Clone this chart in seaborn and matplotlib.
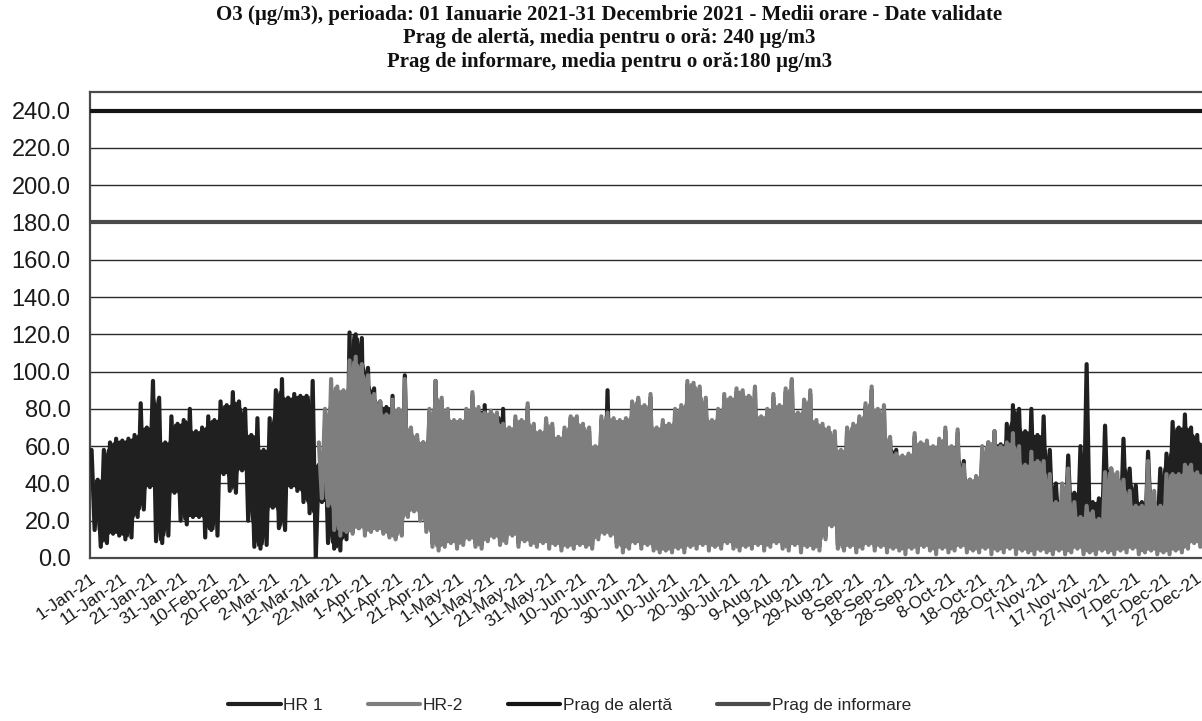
import matplotlib
matplotlib.use("Agg")
import matplotlib.pyplot as plt
import pandas as pd
import seaborn as sns

# Hourly O3 shown as daily peak / trough pairs, one pair per 2-day block (µg/m3)
BLOCK_DAYS = 2
HR1_START_DAY = 0
HR2_START_DAY = 74

hr1_high = [
    58, 42, 58, 62, 64, 63, 64, 66, 83, 70,
    95, 86, 62, 76, 72, 74, 80, 68, 70, 76,
    74, 84, 82, 89, 84, 80, 66, 75, 58, 75,
    90, 96, 86, 88, 87, 87, 95, 50, 70, 80,
    85, 88, 121, 120, 118, 102, 91, 84, 81, 87,
    78, 98, 68, 64, 62, 78, 95, 84, 78, 72,
    72, 78, 87, 79, 82, 77, 76, 80, 68, 74,
    72, 81, 70, 66, 73, 70, 63, 68, 75, 74,
    70, 68, 58, 74, 90, 73, 72, 73, 82, 85,
    80, 86, 68, 72, 70, 78, 80, 93, 92, 90,
    84, 72, 78, 86, 84, 89, 88, 86, 90, 74,
    78, 86, 80, 89, 95, 76, 83, 88, 72, 70,
    68, 66, 56, 68, 70, 74, 81, 90, 78, 80,
    63, 58, 54, 55, 65, 60, 62, 58, 62, 68,
    58, 67, 52, 42, 42, 55, 62, 68, 61, 72,
    82, 80, 68, 80, 66, 76, 58, 40, 30, 55,
    35, 60, 104, 30, 32, 71, 48, 40, 64, 48,
    39, 30, 57, 30, 48, 56, 73, 70, 77, 70,
    66, 62, 60,
]
hr1_low = [
    15, 6, 8, 13, 12, 10, 11, 22, 26, 38,
    9, 8, 12, 35, 20, 18, 22, 22, 11, 15,
    12, 45, 36, 35, 47, 20, 6, 5, 7, 27,
    16, 15, 38, 36, 30, 24, 0, 30, 8, 5,
    4, 10, 14, 16, 15, 18, 16, 14, 12, 11,
    13, 24, 26, 22, 17, 8, 6, 8, 10, 7,
    9, 12, 8, 7, 10, 12, 9, 10, 14, 8,
    10, 9, 8, 10, 7, 9, 6, 8, 7, 9,
    8, 7, 12, 14, 13, 8, 6, 7, 10, 7,
    9, 6, 5, 6, 5, 7, 5, 8, 7, 9,
    24, 8, 7, 10, 7, 6, 8, 7, 9, 6,
    8, 10, 7, 6, 9, 5, 8, 7, 6, 12,
    18, 7, 6, 8, 5, 7, 9, 6, 8, 5,
    7, 6, 5, 7, 5, 8, 6, 5, 7, 5,
    6, 8, 6, 20, 18, 15, 10, 12, 9, 14,
    20, 25, 18, 22, 16, 20, 15, 12, 10, 14,
    8, 12, 15, 10, 12, 18, 15, 12, 16, 14,
    10, 8, 15, 10, 12, 18, 20, 22, 25, 20,
    18, 20, 22,
]
hr2_high = [
    62, 80, 96,
    92, 90, 106, 108, 104, 98, 88, 84, 77, 85,
    80, 96, 70, 66, 62, 80, 95, 86, 80, 74,
    74, 80, 89, 81, 78, 79, 78, 72, 70, 76,
    74, 83, 72, 68, 75, 72, 65, 70, 76, 76,
    72, 70, 60, 76, 78, 75, 74, 75, 84, 86,
    82, 88, 70, 74, 72, 80, 82, 95, 94, 92,
    86, 74, 80, 88, 86, 91, 90, 87, 92, 76,
    80, 88, 82, 91, 96, 78, 85, 90, 74, 72,
    70, 68, 58, 70, 72, 76, 83, 92, 80, 82,
    65, 56, 55, 56, 67, 62, 63, 60, 64, 70,
    60, 69, 50, 42, 44, 60, 62, 68, 60, 62,
    67, 60, 50, 57, 52, 52, 45, 30, 40, 48,
    30, 22, 28, 25, 21, 46, 48, 46, 42, 36,
    28, 28, 52, 36, 28, 45, 45, 45, 50, 50,
    46, 45, 44,
]
hr2_low = [
    32, 28, 15,
    12, 14, 13, 16, 12, 14, 15, 13, 11, 10,
    12, 22, 25, 20, 14, 6, 4, 6, 8, 5,
    7, 10, 6, 5, 9, 11, 7, 8, 12, 6,
    9, 7, 6, 8, 5, 7, 4, 6, 5, 7,
    6, 5, 10, 13, 12, 6, 3, 5, 8, 5,
    7, 4, 3, 4, 3, 5, 3, 6, 5, 7,
    4, 6, 5, 8, 5, 4, 6, 5, 7, 4,
    6, 8, 5, 4, 7, 3, 6, 5, 4, 10,
    17, 5, 4, 6, 3, 5, 7, 4, 6, 3,
    5, 4, 2, 5, 3, 6, 4, 2, 5, 3,
    4, 6, 3, 4, 3, 5, 2, 4, 3, 5,
    2, 4, 3, 2, 4, 3, 2, 4, 2, 3,
    5, 2, 3, 2, 4, 3, 2, 4, 3, 5,
    2, 3, 4, 2, 3, 2, 4, 3, 5, 8,
    6, 4, 3,
]

ALERT_THRESHOLD = 240
INFO_THRESHOLD = 180

y_ticks = [0, 20, 40, 60, 80, 100, 120, 140, 160, 180, 200, 220, 240]
x_tick_days = list(range(0, 361, 10))
x_tick_labels = [
    "1-Jan-21", "11-Jan-21", "21-Jan-21", "31-Jan-21", "10-Feb-21",
    "20-Feb-21", "2-Mar-21", "12-Mar-21", "22-Mar-21", "1-Apr-21",
    "11-Apr-21", "21-Apr-21", "1-May-21", "11-May-21", "21-May-21",
    "31-May-21", "10-Jun-21", "20-Jun-21", "30-Jun-21", "10-Jul-21",
    "20-Jul-21", "30-Jul-21", "9-Aug-21", "19-Aug-21", "29-Aug-21",
    "8-Sep-21", "18-Sep-21", "28-Sep-21", "8-Oct-21", "18-Oct-21",
    "28-Oct-21", "7-Nov-21", "17-Nov-21", "27-Nov-21", "7-Dec-21",
    "17-Dec-21", "27-Dec-21",
]
title_lines = [
    "O3 (\u00b5g/m3), perioada: 01 Ianuarie 2021-31 Decembrie 2021 - Medii orare - Date validate",
    "Prag de alert\u0103, media pentru o or\u0103: 240 \u00b5g/m3",
    "Prag de informare, media pentru o or\u0103:180 \u00b5g/m3",
]
series_names = ["HR 1", "HR-2", "Prag de alert\u0103", "Prag de informare"]
series_colors = ["#202020", "#7e7e7e", "#151515", "#4a4a4a"]


def swing_frame(start_day, highs, lows):
    """Peak/trough pairs laid out as a continuous up-down trace over the days."""
    days, vals = [], []
    for k, (hi, lo) in enumerate(zip(highs, lows)):
        base = start_day + BLOCK_DAYS * k
        days += [base + 0.5, base + 1.5]
        vals += [hi, lo]
    return pd.DataFrame({"zi": days, "o3": vals})


def shade_core(ax, start_day, highs, lows, color, zorder):
    """Fill the part of the trace that every up-down swing crosses,
    so only the individual peaks and troughs stick out of the band."""
    n = len(highs)
    top_x = [start_day + BLOCK_DAYS * k + 1.5 for k in range(n - 1)]
    top_y = [min(highs[k], highs[k + 1]) for k in range(n - 1)]
    bot_x = [start_day + BLOCK_DAYS * k + 0.5 for k in range(1, n)]
    bot_y = [max(lows[k - 1], lows[k]) for k in range(1, n)]
    ax.fill(top_x + bot_x[::-1], top_y + bot_y[::-1],
            color=color, linewidth=0, zorder=zorder)


sns.set_style("white")
plt.rcParams["font.family"] = ["Liberation Sans", "DejaVu Sans"]

fig = plt.figure(figsize=(12.02, 7.21), dpi=100)
ax = fig.add_axes([0.0749, 0.2261, 0.9326, 0.6463])

# horizontal grid
for v in y_ticks:
    ax.axhline(v, color="#2a2a2a", linewidth=1.0, zorder=1)

hr1 = swing_frame(HR1_START_DAY, hr1_high, hr1_low)
hr2 = swing_frame(HR2_START_DAY, hr2_high, hr2_low)
shade_core(ax, HR1_START_DAY, hr1_high, hr1_low, series_colors[0], 2.5)
sns.lineplot(data=hr1, x="zi", y="o3", ax=ax, color=series_colors[0],
             linewidth=2.2, estimator=None, sort=False,
             label=series_names[0], zorder=3)
shade_core(ax, HR2_START_DAY, hr2_high, hr2_low, series_colors[1], 3.5)
sns.lineplot(data=hr2, x="zi", y="o3", ax=ax, color=series_colors[1],
             linewidth=2.2, estimator=None, sort=False,
             label=series_names[1], zorder=4)
ax.axhline(ALERT_THRESHOLD, color=series_colors[2], linewidth=3.0, zorder=5,
           label=series_names[2])
ax.axhline(INFO_THRESHOLD, color=series_colors[3], linewidth=3.0, zorder=5,
           label=series_names[3])

ax.set_xlim(0, 365)
ax.set_ylim(0, 250)
ax.set_yticks(y_ticks)
ax.set_yticklabels([f"{v:.1f}" for v in y_ticks], fontsize=17)
ax.set_xticks(x_tick_days)
ax.set_xticklabels(x_tick_labels, fontsize=12.5, rotation=35,
                   ha="right", va="top", rotation_mode="anchor")
ax.tick_params(axis="y", length=0, pad=14, colors="#1a1a1a")
ax.tick_params(axis="x", length=0, pad=9, colors="#1a1a1a")
ax.set_xlabel("")
ax.set_ylabel("")
for side in ["left", "top", "bottom", "right"]:
    ax.spines[side].set_color("#4a4a4a")
    ax.spines[side].set_linewidth(1.6)

for i, line in enumerate(title_lines):
    fig.text(0.507, 1 - (15 + 23.5 * i) / 721, line, ha="center", va="center",
             fontsize=15, fontweight="bold", family=["Liberation Serif", "DejaVu Serif"],
             color="#111111")

handles, labels = ax.get_legend_handles_labels()
for h in handles:
    h.set_linewidth(3.0)
if ax.legend_ is not None:
    ax.legend_.remove()
fig.legend(handles, labels, loc="center", bbox_to_anchor=(0.474, 0.021), ncol=4,
           frameon=False, handlelength=3.0, handletextpad=0.15, columnspacing=2.6,
           prop={"family": ["Liberation Sans Narrow", "Liberation Sans"], "size": 12.5})

fig.savefig("out.png", dpi=100)
